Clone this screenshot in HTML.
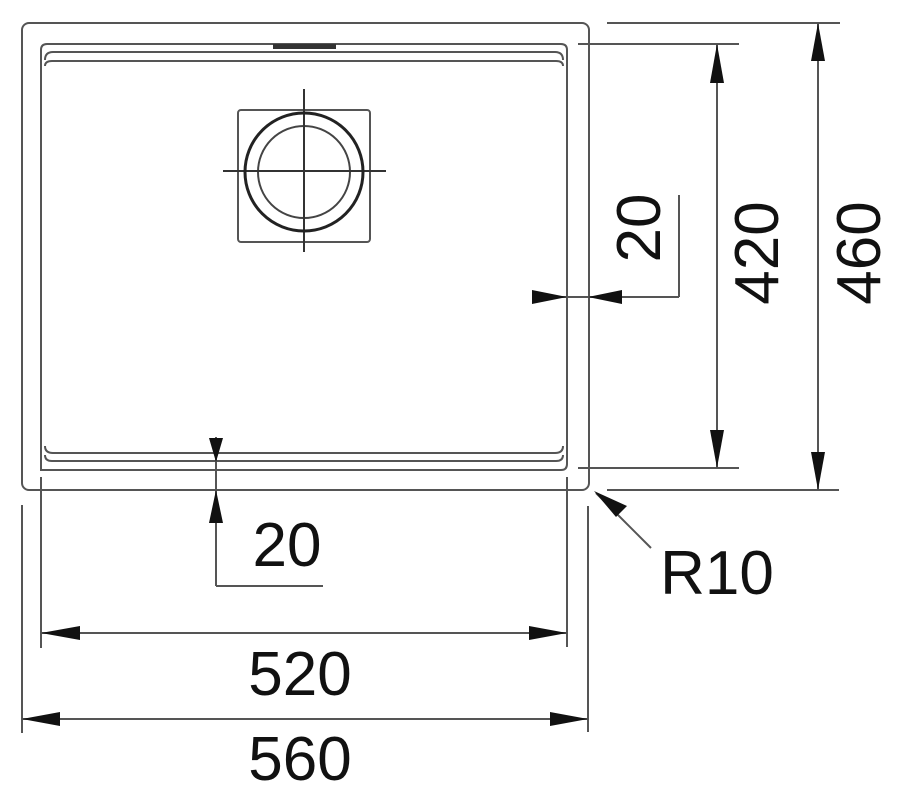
<!DOCTYPE html>
<html><head><meta charset="utf-8"><style>
html,body{margin:0;padding:0;background:#fff;width:900px;height:794px;overflow:hidden}
svg{display:block}
text{font-family:"Liberation Sans",sans-serif;font-size:62px;fill:#111}
</style></head><body>
<svg width="900" height="794" viewBox="0 0 900 794" xmlns="http://www.w3.org/2000/svg">
<g fill="none" stroke="#555" stroke-width="2">
<!-- outer rim -->
<rect x="22" y="23" width="567" height="467" rx="7"/>
<!-- bowl outer line -->
<path d="M41,470 L41,50 Q41,44 47,44 L561,44 Q567,44 567,50 L567,464 Q567,470 561,470 Z"/>
<!-- inner offset lines -->
<path d="M45,60 Q45,52 53,52 L555,52 Q563,52 563,60"/>
<path d="M45,66 Q45,61 52,61 L556,61 Q563,61 563,66"/>
<path d="M45,446 Q45,453 53,453 L555,453 Q563,453 563,446"/>
<path d="M45,455 Q45,461 52,461 L556,461 Q563,461 563,455"/>
<!-- drain -->
<rect x="238" y="110" width="132" height="132" rx="3"/>
<circle cx="304" cy="172" r="46" stroke="#444"/>
<line x1="223" y1="171" x2="386" y2="171" stroke="#333"/>
<line x1="304" y1="89" x2="304" y2="252" stroke="#333"/>
<!-- extension lines -->
<line x1="607" y1="23" x2="840" y2="23"/>
<line x1="578" y1="44" x2="739" y2="44"/>
<line x1="578" y1="468" x2="739" y2="468"/>
<line x1="607" y1="490" x2="839" y2="490"/>
<line x1="41" y1="477" x2="41" y2="648"/>
<line x1="567" y1="477" x2="567" y2="647"/>
<line x1="22" y1="505" x2="22" y2="733"/>
<line x1="588" y1="506" x2="588" y2="732"/>
<!-- dim lines -->
<line x1="717" y1="44" x2="717" y2="468"/>
<line x1="818" y1="23" x2="818" y2="490"/>
<line x1="41" y1="633" x2="567" y2="633"/>
<line x1="22" y1="719" x2="588" y2="719"/>
<line x1="532" y1="297" x2="679" y2="297"/>
<line x1="679" y1="297" x2="679" y2="195"/>
<line x1="216" y1="437" x2="216" y2="586"/>
<line x1="216" y1="586" x2="323" y2="586"/>
<line x1="651" y1="548" x2="596" y2="493"/>
</g>
<circle cx="304" cy="172" r="59" fill="none" stroke="#222" stroke-width="3"/>
<rect x="273" y="44" width="63" height="5" fill="#333"/>
<g fill="#111">
<!-- 420 arrows -->
<polygon points="717,44 710,83 724,83"/>
<polygon points="717,468 710,430 724,430"/>
<!-- 460 arrows -->
<polygon points="818,23 811,61 825,61"/>
<polygon points="818,490 811,452 825,452"/>
<!-- 520 -->
<polygon points="41,633 80,626 80,640"/>
<polygon points="567,633 529,626 529,640"/>
<!-- 560 -->
<polygon points="22,719 60,712 60,726"/>
<polygon points="588,719 550,712 550,726"/>
<!-- 20 right -->
<polygon points="567,297 532,290 532,304"/>
<polygon points="588,297 622,290 622,304"/>
<!-- 20 bottom -->
<polygon points="216,462 209,438 223,438"/>
<polygon points="216,490 209,523 223,523"/>
<!-- R10 -->
<polygon points="594,491 627,506 616,517"/>
</g>
<text x="300" y="695" text-anchor="middle">520</text>
<text x="300" y="780" text-anchor="middle">560</text>
<text x="287" y="566" text-anchor="middle">20</text>
<text x="717" y="594" text-anchor="middle">R10</text>
<text transform="translate(660,228) rotate(-90)" text-anchor="middle">20</text>
<text transform="translate(778,253) rotate(-90)" text-anchor="middle">420</text>
<text transform="translate(880,253) rotate(-90)" text-anchor="middle">460</text>
</svg>
</body></html>
